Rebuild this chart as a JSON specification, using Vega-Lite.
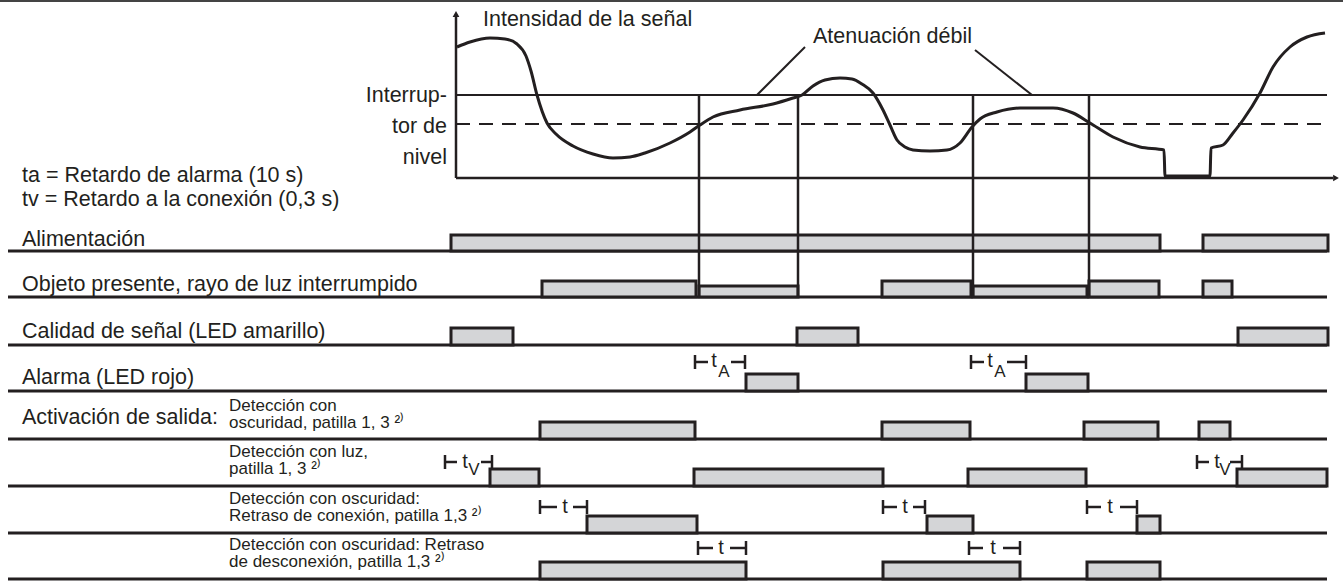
{
  "$schema": "https://vega.github.io/schema/vega-lite/v6.json",
  "width": 1343,
  "height": 581,
  "autosize": "none",
  "padding": 0,
  "background": "white",
  "config": {"view": {"stroke": null}, "font": "Liberation Sans"},
  "datasets": {
    "segs": [
      {"kind": "frame", "x": 0, "x2": 1343, "y": 1, "y2": 1},
      {"kind": "base", "x": 8, "x2": 1327, "y": 251, "y2": 251},
      {"kind": "base", "x": 8, "x2": 1327, "y": 297, "y2": 297},
      {"kind": "base", "x": 8, "x2": 1327, "y": 345, "y2": 345},
      {"kind": "base", "x": 8, "x2": 1327, "y": 391, "y2": 391},
      {"kind": "base", "x": 8, "x2": 1327, "y": 439, "y2": 439},
      {"kind": "base", "x": 8, "x2": 1327, "y": 486, "y2": 486},
      {"kind": "base", "x": 8, "x2": 1327, "y": 533, "y2": 533},
      {"kind": "base", "x": 8, "x2": 1327, "y": 579, "y2": 579},
      {"kind": "axis", "x": 456, "x2": 456, "y": 178, "y2": 16},
      {"kind": "axis", "x": 456, "x2": 1333, "y": 178, "y2": 178},
      {"kind": "thresh", "x": 456, "x2": 1327, "y": 95, "y2": 95},
      {"kind": "dash", "x": 456, "x2": 1327, "y": 124, "y2": 124},
      {"kind": "vert", "x": 699, "x2": 699, "y": 95, "y2": 297},
      {"kind": "vert", "x": 798, "x2": 798, "y": 95, "y2": 297},
      {"kind": "vert", "x": 973, "x2": 973, "y": 95, "y2": 297},
      {"kind": "vert", "x": 1089, "x2": 1089, "y": 95, "y2": 297},
      {"kind": "pointer", "x": 805, "x2": 757, "y": 47, "y2": 95},
      {"kind": "pointer", "x": 975, "x2": 1032, "y": 50, "y2": 95}
    ],
    "bars": [
      {"signal": "Alimentación", "start": 451, "end": 1160, "top": 235, "base": 251},
      {"signal": "Alimentación", "start": 1203, "end": 1328, "top": 235, "base": 251},
      {"signal": "Objeto", "start": 542, "end": 696, "top": 281, "base": 297},
      {"signal": "Objeto", "start": 699, "end": 798, "top": 286, "base": 297},
      {"signal": "Objeto", "start": 882, "end": 971, "top": 281, "base": 297},
      {"signal": "Objeto", "start": 973, "end": 1087, "top": 286, "base": 297},
      {"signal": "Objeto", "start": 1089, "end": 1159, "top": 281, "base": 297},
      {"signal": "Objeto", "start": 1203, "end": 1232, "top": 281, "base": 297},
      {"signal": "Calidad", "start": 451, "end": 513, "top": 328, "base": 345},
      {"signal": "Calidad", "start": 797, "end": 858, "top": 328, "base": 345},
      {"signal": "Calidad", "start": 1238, "end": 1328, "top": 328, "base": 345},
      {"signal": "Alarma", "start": 746, "end": 798, "top": 374, "base": 391},
      {"signal": "Alarma", "start": 1026, "end": 1088, "top": 374, "base": 391},
      {"signal": "Act1", "start": 540, "end": 695, "top": 422, "base": 439},
      {"signal": "Act1", "start": 882, "end": 970, "top": 422, "base": 439},
      {"signal": "Act1", "start": 1084, "end": 1158, "top": 422, "base": 439},
      {"signal": "Act1", "start": 1199, "end": 1230, "top": 422, "base": 439},
      {"signal": "Act2", "start": 490, "end": 539, "top": 469, "base": 486},
      {"signal": "Act2", "start": 694, "end": 883, "top": 469, "base": 486},
      {"signal": "Act2", "start": 968, "end": 1086, "top": 469, "base": 486},
      {"signal": "Act2", "start": 1237, "end": 1327, "top": 469, "base": 486},
      {"signal": "Act3", "start": 587, "end": 697, "top": 516, "base": 533},
      {"signal": "Act3", "start": 927, "end": 973, "top": 516, "base": 533},
      {"signal": "Act3", "start": 1137, "end": 1160, "top": 516, "base": 533},
      {"signal": "Act4", "start": 540, "end": 746, "top": 562, "base": 579},
      {"signal": "Act4", "start": 883, "end": 1020, "top": 562, "base": 579},
      {"signal": "Act4", "start": 1087, "end": 1160, "top": 562, "base": 579}
    ],
    "curve": [
      {"x": 457, "y": 47}, {"x": 470, "y": 42}, {"x": 490, "y": 38}, {"x": 505, "y": 39},
      {"x": 517, "y": 44}, {"x": 526, "y": 56}, {"x": 531, "y": 71}, {"x": 537, "y": 95},
      {"x": 547, "y": 123}, {"x": 556, "y": 134}, {"x": 573, "y": 146}, {"x": 593, "y": 154},
      {"x": 613, "y": 158}, {"x": 630, "y": 157}, {"x": 645, "y": 153}, {"x": 670, "y": 143},
      {"x": 690, "y": 132}, {"x": 700, "y": 125}, {"x": 713, "y": 117}, {"x": 740, "y": 110},
      {"x": 773, "y": 104}, {"x": 793, "y": 98}, {"x": 802, "y": 95}, {"x": 813, "y": 86},
      {"x": 825, "y": 80}, {"x": 840, "y": 78}, {"x": 852, "y": 79}, {"x": 862, "y": 84},
      {"x": 873, "y": 93}, {"x": 883, "y": 110}, {"x": 890, "y": 125}, {"x": 897, "y": 140},
      {"x": 905, "y": 147}, {"x": 913, "y": 150}, {"x": 930, "y": 151}, {"x": 947, "y": 150},
      {"x": 960, "y": 143}, {"x": 972, "y": 127}, {"x": 980, "y": 119}, {"x": 997, "y": 112},
      {"x": 1020, "y": 108}, {"x": 1053, "y": 108}, {"x": 1073, "y": 113}, {"x": 1090, "y": 123},
      {"x": 1113, "y": 137}, {"x": 1140, "y": 147}, {"x": 1164, "y": 150}, {"x": 1165, "y": 176},
      {"x": 1210, "y": 176}, {"x": 1211, "y": 148}, {"x": 1223, "y": 145}, {"x": 1233, "y": 133},
      {"x": 1243, "y": 120}, {"x": 1260, "y": 93}, {"x": 1273, "y": 67}, {"x": 1290, "y": 47},
      {"x": 1307, "y": 37}, {"x": 1325, "y": 33}
    ],
    "arrows": [
      {"x": 456, "y": 14, "dir": "up"},
      {"x": 1336, "y": 178, "dir": "right"}
    ],
    "ann": [
      {"x1": 695, "a": 708, "b": 731, "x2": 745, "y": 362},
      {"x1": 971, "a": 984, "b": 1007, "x2": 1026, "y": 362},
      {"x1": 445, "a": 457, "b": 481, "x2": 492, "y": 462},
      {"x1": 1197, "a": 1209, "b": 1230, "x2": 1242, "y": 462},
      {"x1": 540, "a": 557, "b": 573, "x2": 587, "y": 507},
      {"x1": 883, "a": 897, "b": 913, "x2": 925, "y": 507},
      {"x1": 1087, "a": 1101, "b": 1120, "x2": 1137, "y": 507},
      {"x1": 698, "a": 713, "b": 730, "x2": 746, "y": 548},
      {"x1": 969, "a": 983, "b": 1003, "x2": 1020, "y": 548}
    ],
    "annText": [
      {"kind": "t", "x": 714, "y": 367, "text": "t"},
      {"kind": "sub", "x": 724, "y": 377, "text": "A"},
      {"kind": "t", "x": 990, "y": 367, "text": "t"},
      {"kind": "sub", "x": 1000, "y": 377, "text": "A"},
      {"kind": "t", "x": 465, "y": 468, "text": "t"},
      {"kind": "sub", "x": 474, "y": 475, "text": "V"},
      {"kind": "t", "x": 1217, "y": 468, "text": "t"},
      {"kind": "sub", "x": 1225, "y": 475, "text": "V"},
      {"kind": "tl", "x": 565, "y": 513, "text": "t"},
      {"kind": "tl", "x": 905, "y": 513, "text": "t"},
      {"kind": "tl", "x": 1110, "y": 513, "text": "t"},
      {"kind": "tl", "x": 721, "y": 554, "text": "t"},
      {"kind": "tl", "x": 993, "y": 554, "text": "t"}
    ],
    "labels": [
      {"x": 483, "y": 26, "text": "Intensidad de la señal"},
      {"x": 813, "y": 43, "text": "Atenuación débil"},
      {"x": 22, "y": 182, "text": "ta = Retardo de alarma (10 s)"},
      {"x": 22, "y": 206, "text": "tv = Retardo a la conexión (0,3 s)"},
      {"x": 22, "y": 246, "text": "Alimentación"},
      {"x": 22, "y": 291, "text": "Objeto presente, rayo de luz interrumpido"},
      {"x": 22, "y": 338, "text": "Calidad de señal (LED amarillo)"},
      {"x": 22, "y": 384, "text": "Alarma (LED rojo)"},
      {"x": 22, "y": 424, "text": "Activación de salida:"}
    ],
    "level": [
      {"x": 447, "y": 102, "text": "Interrup-\ntor de\nnivel"}
    ],
    "sublabels": [
      {"x": 229, "y": 411, "text": "Detección con\noscuridad, patilla 1, 3 ²⁾"},
      {"x": 229, "y": 457, "text": "Detección con luz,\npatilla 1, 3 ²⁾"},
      {"x": 229, "y": 504, "text": "Detección con oscuridad:\nRetraso de conexión, patilla 1,3 ²⁾"},
      {"x": 229, "y": 550, "text": "Detección con oscuridad: Retraso\nde desconexión, patilla 1,3 ²⁾"}
    ]
  },
  "layer": [
    {
      "data": {"name": "segs"},
      "transform": [{"filter": "datum.kind == 'frame'"}],
      "mark": {"type": "rule", "color": "#444444", "strokeWidth": 2},
      "encoding": {
        "x": {"field": "x", "type": "quantitative", "scale": {"domain": [0, 1343]}, "axis": null},
        "x2": {"field": "x2"},
        "y": {"field": "y", "type": "quantitative", "scale": {"domain": [0, 581], "reverse": true}, "axis": null},
        "y2": {"field": "y2"}
      }
    },
    {
      "data": {"name": "segs"},
      "transform": [{"filter": "datum.kind == 'base'"}],
      "mark": {"type": "rule", "color": "#231f20", "strokeWidth": 3},
      "encoding": {
        "x": {"field": "x", "type": "quantitative", "scale": {"domain": [0, 1343]}, "axis": null},
        "x2": {"field": "x2"},
        "y": {"field": "y", "type": "quantitative", "scale": {"domain": [0, 581], "reverse": true}, "axis": null},
        "y2": {"field": "y2"}
      }
    },
    {
      "data": {"name": "bars"},
      "mark": {"type": "rect", "fill": "#d4d5d7", "stroke": "#231f20", "strokeWidth": 3},
      "encoding": {
        "x": {"field": "start", "type": "quantitative", "scale": {"domain": [0, 1343]}, "axis": null},
        "x2": {"field": "end"},
        "y": {"field": "top", "type": "quantitative", "scale": {"domain": [0, 581], "reverse": true}, "axis": null},
        "y2": {"field": "base"}
      }
    },
    {
      "data": {"name": "segs"},
      "transform": [{"filter": "datum.kind == 'axis' || datum.kind == 'vert'"}],
      "mark": {"type": "rule", "color": "#231f20", "strokeWidth": 2.5},
      "encoding": {
        "x": {"field": "x", "type": "quantitative", "scale": {"domain": [0, 1343]}, "axis": null},
        "x2": {"field": "x2"},
        "y": {"field": "y", "type": "quantitative", "scale": {"domain": [0, 581], "reverse": true}, "axis": null},
        "y2": {"field": "y2"}
      }
    },
    {
      "data": {"name": "segs"},
      "transform": [{"filter": "datum.kind == 'thresh' || datum.kind == 'pointer'"}],
      "mark": {"type": "rule", "color": "#231f20", "strokeWidth": 2},
      "encoding": {
        "x": {"field": "x", "type": "quantitative", "scale": {"domain": [0, 1343]}, "axis": null},
        "x2": {"field": "x2"},
        "y": {"field": "y", "type": "quantitative", "scale": {"domain": [0, 581], "reverse": true}, "axis": null},
        "y2": {"field": "y2"}
      }
    },
    {
      "data": {"name": "segs"},
      "transform": [{"filter": "datum.kind == 'dash'"}],
      "mark": {"type": "rule", "color": "#231f20", "strokeWidth": 2, "strokeDash": [14, 9]},
      "encoding": {
        "x": {"field": "x", "type": "quantitative", "scale": {"domain": [0, 1343]}, "axis": null},
        "x2": {"field": "x2"},
        "y": {"field": "y", "type": "quantitative", "scale": {"domain": [0, 581], "reverse": true}, "axis": null},
        "y2": {"field": "y2"}
      }
    },
    {
      "data": {"name": "curve"},
      "mark": {"type": "line", "color": "#231f20", "strokeWidth": 3, "interpolate": "monotone"},
      "encoding": {
        "x": {"field": "x", "type": "quantitative", "scale": {"domain": [0, 1343]}, "axis": null},
        "y": {"field": "y", "type": "quantitative", "scale": {"domain": [0, 581], "reverse": true}, "axis": null}
      }
    },
    {
      "data": {"name": "arrows"},
      "mark": {"type": "point", "filled": true, "color": "#231f20", "opacity": 1, "size": 45},
      "encoding": {
        "x": {"field": "x", "type": "quantitative", "scale": {"domain": [0, 1343]}, "axis": null},
        "y": {"field": "y", "type": "quantitative", "scale": {"domain": [0, 581], "reverse": true}, "axis": null},
        "shape": {"field": "dir", "type": "nominal", "scale": {"domain": ["up", "right"], "range": ["triangle-up", "triangle-right"]}, "legend": null}
      }
    },
    {
      "data": {"name": "ann"},
      "mark": {"type": "rule", "color": "#231f20", "strokeWidth": 2.5},
      "encoding": {
        "x": {"field": "x1", "type": "quantitative", "scale": {"domain": [0, 1343]}, "axis": null},
        "x2": {"field": "a"},
        "y": {"field": "y", "type": "quantitative", "scale": {"domain": [0, 581], "reverse": true}, "axis": null}
      }
    },
    {
      "data": {"name": "ann"},
      "mark": {"type": "rule", "color": "#231f20", "strokeWidth": 2.5},
      "encoding": {
        "x": {"field": "b", "type": "quantitative", "scale": {"domain": [0, 1343]}, "axis": null},
        "x2": {"field": "x2"},
        "y": {"field": "y", "type": "quantitative", "scale": {"domain": [0, 581], "reverse": true}, "axis": null}
      }
    },
    {
      "data": {"name": "ann"},
      "mark": {"type": "tick", "orient": "vertical", "color": "#231f20", "size": 14, "thickness": 2.5, "opacity": 1},
      "encoding": {
        "x": {"field": "x1", "type": "quantitative", "scale": {"domain": [0, 1343]}, "axis": null},
        "y": {"field": "y", "type": "quantitative", "scale": {"domain": [0, 581], "reverse": true}, "axis": null}
      }
    },
    {
      "data": {"name": "ann"},
      "mark": {"type": "tick", "orient": "vertical", "color": "#231f20", "size": 14, "thickness": 2.5, "opacity": 1},
      "encoding": {
        "x": {"field": "x2", "type": "quantitative", "scale": {"domain": [0, 1343]}, "axis": null},
        "y": {"field": "y", "type": "quantitative", "scale": {"domain": [0, 581], "reverse": true}, "axis": null}
      }
    },
    {
      "data": {"name": "annText"},
      "transform": [{"filter": "datum.kind == 't'"}],
      "mark": {"type": "text", "color": "#231f20", "fontSize": 20, "align": "center", "baseline": "alphabetic"},
      "encoding": {
        "x": {"field": "x", "type": "quantitative", "scale": {"domain": [0, 1343]}, "axis": null},
        "y": {"field": "y", "type": "quantitative", "scale": {"domain": [0, 581], "reverse": true}, "axis": null},
        "text": {"field": "text"}
      }
    },
    {
      "data": {"name": "annText"},
      "transform": [{"filter": "datum.kind == 'sub'"}],
      "mark": {"type": "text", "color": "#231f20", "fontSize": 17, "align": "center", "baseline": "alphabetic"},
      "encoding": {
        "x": {"field": "x", "type": "quantitative", "scale": {"domain": [0, 1343]}, "axis": null},
        "y": {"field": "y", "type": "quantitative", "scale": {"domain": [0, 581], "reverse": true}, "axis": null},
        "text": {"field": "text"}
      }
    },
    {
      "data": {"name": "annText"},
      "transform": [{"filter": "datum.kind == 'tl'"}],
      "mark": {"type": "text", "color": "#231f20", "fontSize": 20, "align": "center", "baseline": "alphabetic"},
      "encoding": {
        "x": {"field": "x", "type": "quantitative", "scale": {"domain": [0, 1343]}, "axis": null},
        "y": {"field": "y", "type": "quantitative", "scale": {"domain": [0, 581], "reverse": true}, "axis": null},
        "text": {"field": "text"}
      }
    },
    {
      "data": {"name": "labels"},
      "mark": {"type": "text", "color": "#231f20", "fontSize": 21.5, "align": "left", "baseline": "alphabetic"},
      "encoding": {
        "x": {"field": "x", "type": "quantitative", "scale": {"domain": [0, 1343]}, "axis": null},
        "y": {"field": "y", "type": "quantitative", "scale": {"domain": [0, 581], "reverse": true}, "axis": null},
        "text": {"field": "text"}
      }
    },
    {
      "data": {"name": "level"},
      "mark": {"type": "text", "color": "#231f20", "fontSize": 21.5, "align": "right", "baseline": "alphabetic", "lineBreak": "\n", "lineHeight": 31},
      "encoding": {
        "x": {"field": "x", "type": "quantitative", "scale": {"domain": [0, 1343]}, "axis": null},
        "y": {"field": "y", "type": "quantitative", "scale": {"domain": [0, 581], "reverse": true}, "axis": null},
        "text": {"field": "text"}
      }
    },
    {
      "data": {"name": "sublabels"},
      "mark": {"type": "text", "color": "#231f20", "fontSize": 17, "align": "left", "baseline": "alphabetic", "lineBreak": "\n", "lineHeight": 17},
      "encoding": {
        "x": {"field": "x", "type": "quantitative", "scale": {"domain": [0, 1343]}, "axis": null},
        "y": {"field": "y", "type": "quantitative", "scale": {"domain": [0, 581], "reverse": true}, "axis": null},
        "text": {"field": "text"}
      }
    }
  ]
}
